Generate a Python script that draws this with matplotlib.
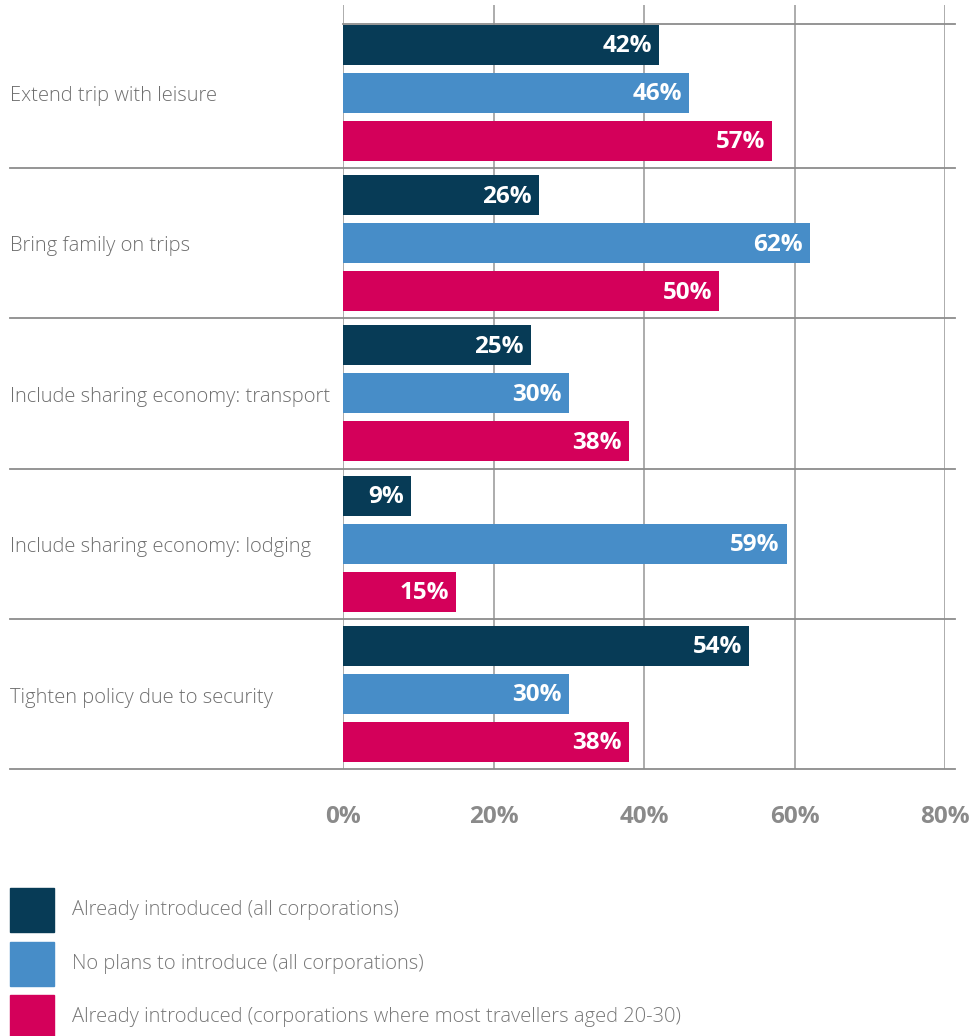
import matplotlib
matplotlib.use("Agg")
import matplotlib.pyplot as plt
from matplotlib.patches import Rectangle
import numpy as np

plt.rcParams['font.family'] = ['Open Sans', 'DejaVu Sans']

# data
categories = ["Extend trip with leisure",
              "Bring family on trips",
              "Include sharing economy: transport",
              "Include sharing economy: lodging",
              "Tighten policy due to security"]
already_all = [42, 26, 25, 9, 54]
no_plans_all = [46, 62, 30, 59, 30]
already_young = [57, 50, 38, 15, 38]
series_names = ["Already introduced (all corporations)",
                "No plans to introduce (all corporations)",
                "Already introduced (corporations where most travellers aged 20-30)"]
xticks = [0, 20, 40, 60, 80]

colors = ["#073b56", "#478dc8", "#d4005a"]
grid_col = "#a6a6a6"
sep_col = "#8c8c8c"

fig = plt.figure(figsize=(9.76, 10.36), dpi=100)
ax = fig.add_axes([343 / 976, 1 - 769 / 1036, 602 / 976, 764 / 1036])

n = len(categories)
y = np.arange(n)
pitch = 0.32
bh = 0.266
all_series = [already_all, no_plans_all, already_young]

for k, vals in enumerate(all_series):
    pos = y + (k - 1) * pitch
    ax.barh(pos, vals, height=bh, color=colors[k], zorder=3)
    for p, v in zip(pos, vals):
        ax.text(v - 0.95, p + 0.01, f"{v}%", ha='right', va='center', color='white',
                fontsize=17.5, fontweight='bold', zorder=4)

ax.set_xlim(0, 80)
ax.set_ylim(4.5, -0.585)

# vertical grid
for t in xticks:
    ax.axvline(t, color=grid_col, lw=1.3, zorder=1)

# group separators, extending left under labels
x_left = (10 - 343) / 7.525
x_right = (955 - 343) / 7.525
for b in np.arange(n) + 0.5:
    ax.plot([x_left, x_right], [b, b], color=sep_col, lw=1.3, clip_on=False, zorder=2)
ax.plot([0, x_right], [-0.459, -0.459], color=sep_col, lw=1.3, clip_on=False, zorder=2)

for s in ax.spines.values():
    s.set_visible(False)

ax.set_yticks([])
ax.set_xticks(xticks)
ax.set_xticklabels([f"{t}%" for t in xticks], fontsize=17.5, fontweight='bold', color='#8a8a8a')
ax.tick_params(axis='x', length=0, pad=26)

for i, c in enumerate(categories):
    fig.text(10 / 976, 1 - (96 + i * 150.4) / 1036, c, ha='left', va='center',
             fontsize=14.5, color='#6e6e6e', fontweight='light')

# legend
for k, name in enumerate(series_names):
    top = 888 + k * 53.5
    fig.patches.append(Rectangle((10 / 976, 1 - (top + 44) / 1036), 44 / 976, 44 / 1036,
                                 transform=fig.transFigure, color=colors[k], figure=fig))
    fig.text(72 / 976, 1 - (top + 22) / 1036, name, ha='left', va='center',
             fontsize=14.5, color='#777777', fontweight='light')

fig.savefig("out.png", dpi=100)
